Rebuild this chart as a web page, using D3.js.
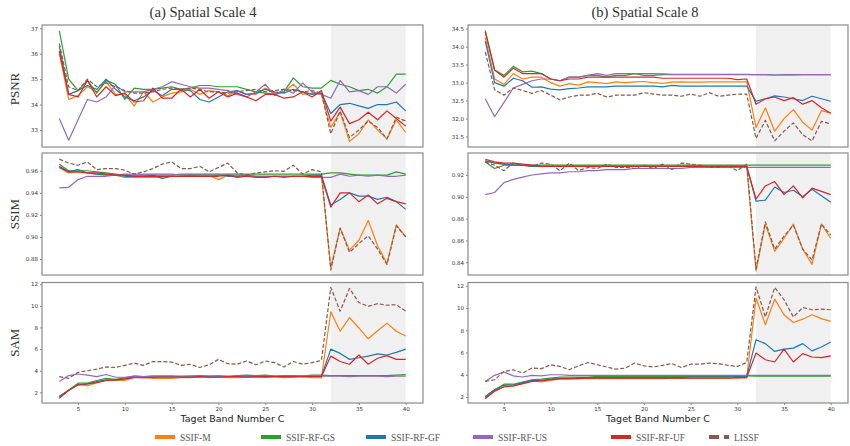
<!DOCTYPE html>
<html><head><meta charset="utf-8">
<script src="https://cdn.jsdelivr.net/npm/d3@7"></script>
<style>body{margin:0;background:#fff}svg{display:block}</style>
</head><body><svg id="c" width="850" height="446"></svg>
<script>
const bands = [3,4,5,6,7,8,9,10,11,12,13,14,15,16,17,18,19,20,21,22,23,24,25,26,27,28,29,30,31,32,33,34,35,36,37,38,39,40];
const seriesNames = ["SSIF-M","SSIF-RF-GS","SSIF-RF-GF","SSIF-RF-US","SSIF-RF-UF","LISSF"];
const seriesColors = ["#ff7f0e","#2ca02c","#1f77b4","#9467bd","#d62728","#8c564b"];
const xTicks = [5,10,15,20,25,30,35,40];
const shadedBand = [32,40];

// (a) Spatial Scale 4 — PSNR
const psnr4_M  = [36.0,34.2,34.35,34.7,34.5,34.9,34.4,34.4,33.95,34.5,34.1,34.3,34.45,34.5,34.6,34.4,34.55,34.5,34.35,34.55,34.4,34.4,34.65,34.45,34.5,34.8,34.4,34.45,34.4,33.1,33.7,32.55,32.85,33.4,33.0,32.65,33.4,32.9];
const psnr4_GS = [36.9,35.0,34.55,34.95,34.45,34.95,34.8,34.2,34.65,34.6,34.6,34.65,34.7,34.6,34.65,34.75,34.75,34.7,34.7,34.7,34.6,34.5,34.45,34.4,34.5,35.05,34.7,34.65,34.65,34.95,34.8,34.7,34.55,34.6,34.45,34.7,35.2,35.2];
const psnr4_GF = [36.3,34.4,34.55,34.75,34.6,35.0,34.6,34.3,34.15,34.3,34.55,34.35,34.6,34.6,34.55,34.2,34.1,34.3,34.5,34.55,34.4,34.45,34.6,34.5,34.45,34.6,34.5,34.4,34.45,33.65,34.0,34.05,33.95,33.85,34.0,34.0,34.1,33.75];
const psnr4_US = [33.45,32.6,33.4,34.2,34.1,34.3,34.75,34.5,34.5,34.5,34.6,34.7,34.9,34.8,34.7,34.65,34.65,34.6,34.55,34.4,34.3,34.5,34.8,34.35,34.6,34.45,34.85,34.5,34.4,34.25,34.95,34.5,34.55,34.4,34.7,34.7,34.45,34.8];
const psnr4_UF = [36.1,34.4,34.3,34.95,34.3,34.7,34.35,34.45,34.1,34.15,34.65,34.25,34.25,34.6,34.3,34.6,34.25,34.5,34.3,34.45,34.3,34.15,34.4,34.4,34.25,34.3,34.5,34.3,34.55,33.35,33.9,33.25,33.4,33.7,33.4,33.75,33.45,33.15];
const psnr4_LI = [36.4,34.7,34.55,35.0,34.7,34.85,34.7,34.55,34.45,34.45,34.5,34.6,34.65,34.6,34.65,34.6,34.5,34.5,34.45,34.5,34.55,34.6,34.5,34.55,34.6,34.55,34.5,34.55,34.45,32.85,33.75,32.7,33.0,33.35,33.1,32.65,33.5,33.35];

// (b) Spatial Scale 8 — PSNR
const psnr8_M  = [34.25,33.1,32.95,33.25,33.1,33.15,33.15,33.0,32.9,32.97,32.93,33.02,33.0,32.97,33.02,33.0,33.02,33.03,33.0,32.98,33.01,33.02,33.01,33.01,33.02,33.02,33.02,33.02,33.02,31.75,32.3,31.65,32.0,32.25,31.9,31.68,32.22,32.15];
const psnr8_GS = [34.45,33.35,33.2,33.45,33.3,33.32,33.25,33.1,33.05,33.15,33.15,33.2,33.2,33.15,33.2,33.2,33.25,33.2,33.2,33.22,33.22,33.22,33.22,33.22,33.22,33.22,33.22,33.22,33.22,33.22,33.22,33.21,33.21,33.21,33.22,33.22,33.22,33.22];
const psnr8_GF = [34.15,33.0,32.9,33.12,33.05,32.87,32.88,32.82,32.8,32.83,32.85,32.88,32.88,32.88,32.9,32.9,32.9,32.9,32.9,32.88,32.92,32.9,32.9,32.9,32.9,32.9,32.9,32.9,32.9,32.48,32.55,32.63,32.6,32.55,32.5,32.62,32.55,32.48];
const psnr8_US = [32.55,32.05,32.45,32.85,32.95,33.05,33.1,33.1,33.05,33.15,33.15,33.2,33.25,33.2,33.25,33.25,33.25,33.25,33.25,33.24,33.23,33.23,33.23,33.23,33.23,33.23,33.23,33.23,33.23,33.22,33.22,33.21,33.22,33.22,33.22,33.22,33.22,33.22];
const psnr8_UF = [34.4,33.35,33.15,33.4,33.25,33.25,33.25,33.1,33.05,33.1,33.1,33.15,33.15,33.15,33.15,33.15,33.15,33.15,33.15,33.12,33.12,33.12,33.12,33.12,33.12,33.12,33.12,33.08,33.1,32.4,32.55,32.6,32.5,32.58,32.4,32.5,32.3,32.15];
const psnr8_LI = [33.85,32.8,32.65,32.85,32.78,32.7,32.78,32.65,32.52,32.6,32.65,32.65,32.7,32.6,32.65,32.65,32.65,32.72,32.68,32.65,32.65,32.62,32.68,32.62,32.72,32.62,32.65,32.68,32.68,31.45,31.95,31.38,31.65,31.88,31.55,31.38,31.92,31.85];

// (a) SSIM
const ssim4_M  = [.963,.958,.959,.958,.957,.957,.956,.954,.954,.954,.954,.954,.955,.955,.956,.956,.956,.952,.956,.955,.955,.955,.954,.955,.955,.955,.955,.955,.956,.872,.908,.888,.897,.915,.892,.876,.911,.900];
const ssim4_GS = [.966,.960,.960,.960,.959,.958,.957,.956,.956,.956,.956,.956,.956,.957,.957,.957,.957,.957,.957,.957,.957,.957,.957,.957,.957,.957,.957,.957,.957,.958,.958,.957,.956,.956,.956,.956,.959,.957];
const ssim4_GF = [.964,.959,.961,.958,.957,.956,.956,.955,.955,.955,.956,.953,.955,.955,.956,.955,.955,.956,.955,.955,.956,.955,.955,.955,.955,.955,.955,.956,.956,.929,.934,.940,.937,.937,.934,.936,.932,.925];
const ssim4_US = [.9445,.945,.952,.955,.955,.955,.956,.957,.957,.957,.957,.957,.957,.956,.956,.956,.956,.956,.956,.956,.955,.955,.955,.955,.955,.955,.955,.954,.954,.954,.957,.955,.956,.955,.956,.955,.955,.956];
const ssim4_UF = [.963,.959,.959,.958,.958,.957,.956,.956,.955,.955,.955,.955,.955,.955,.955,.955,.955,.955,.956,.954,.955,.954,.954,.955,.954,.955,.955,.955,.955,.927,.940,.940,.932,.938,.930,.935,.932,.930];
const ssim4_LI = [.9705,.967,.965,.968,.961,.962,.962,.9605,.957,.959,.962,.966,.968,.962,.962,.964,.959,.963,.967,.958,.956,.958,.959,.960,.9595,.965,.957,.961,.959,.870,.908,.886,.894,.901,.889,.875,.910,.900];

// (b) SSIM
const ssim8_M  = [.933,.931,.930,.929,.929,.928,.928,.928,.928,.928,.928,.928,.928,.928,.928,.928,.928,.928,.928,.928,.928,.928,.928,.928,.928,.928,.928,.928,.928,.832,.875,.850,.862,.875,.852,.838,.875,.862];
const ssim8_GS = [.932,.926,.929,.929,.929,.929,.929,.929,.929,.929,.929,.929,.929,.929,.929,.929,.929,.929,.929,.929,.929,.929,.929,.929,.929,.929,.929,.929,.929,.929,.929,.929,.929,.929,.929,.929,.929,.929];
const ssim8_GF = [.933,.931,.930,.929,.929,.928,.928,.928,.928,.928,.928,.928,.928,.928,.928,.928,.928,.928,.928,.928,.928,.928,.928,.928,.928,.928,.928,.928,.928,.896,.897,.909,.904,.906,.900,.907,.901,.895];
const ssim8_US = [.902,.904,.913,.916,.918,.920,.921,.922,.922,.923,.923,.924,.924,.925,.925,.925,.926,.926,.926,.926,.926,.926,.927,.927,.927,.927,.927,.927,.927,.927,.927,.927,.927,.927,.927,.927,.927,.927];
const ssim8_UF = [.9345,.932,.931,.931,.930,.929,.928,.928,.928,.928,.928,.928,.928,.928,.928,.928,.928,.928,.928,.928,.928,.928,.928,.928,.928,.928,.928,.928,.928,.898,.910,.914,.902,.910,.899,.908,.905,.902];
const ssim8_LI = [.932,.929,.924,.931,.929,.928,.931,.930,.924,.931,.924,.927,.926,.930,.927,.927,.926,.929,.926,.930,.925,.931,.930,.929,.927,.927,.928,.924,.930,.834,.877,.852,.864,.874,.852,.842,.875,.865];

// (a) SAM
const sam4_M  = [1.55,2.2,2.75,2.6,2.9,3.1,3.1,3.1,3.4,3.35,3.3,3.3,3.3,3.35,3.35,3.45,3.35,3.4,3.35,3.35,3.4,3.4,3.45,3.45,3.35,3.4,3.45,3.35,3.35,9.45,7.65,8.9,7.95,6.95,7.7,8.4,7.65,7.2];
const sam4_GS = [1.65,2.2,2.85,2.85,3.1,3.3,3.2,3.35,3.5,3.45,3.5,3.5,3.5,3.45,3.5,3.55,3.5,3.5,3.45,3.55,3.6,3.55,3.6,3.5,3.55,3.55,3.5,3.6,3.6,3.55,3.55,3.55,3.55,3.55,3.55,3.55,3.6,3.65];
const sam4_GF = [1.6,2.2,2.7,2.75,3.0,3.15,3.15,3.25,3.45,3.45,3.4,3.45,3.45,3.45,3.4,3.45,3.45,3.5,3.45,3.45,3.45,3.45,3.4,3.45,3.45,3.45,3.5,3.5,3.5,6.0,5.6,5.05,5.2,5.35,5.55,5.45,5.7,6.0];
const sam4_US = [3.0,3.55,3.7,3.6,3.45,3.65,3.4,3.4,3.5,3.45,3.5,3.5,3.5,3.5,3.5,3.5,3.5,3.5,3.5,3.5,3.5,3.5,3.5,3.5,3.5,3.5,3.5,3.5,3.5,3.5,3.5,3.45,3.5,3.5,3.5,3.45,3.5,3.5];
const sam4_UF = [1.45,2.2,2.7,2.8,2.9,3.1,3.15,3.25,3.35,3.35,3.4,3.4,3.4,3.4,3.4,3.45,3.4,3.4,3.45,3.45,3.4,3.45,3.45,3.45,3.45,3.45,3.45,3.45,3.45,5.35,4.85,4.6,5.45,4.6,5.15,5.4,5.05,5.05];
const sam4_LI = [3.45,3.3,3.85,4.0,4.15,4.35,4.3,4.5,4.7,4.5,4.85,4.85,4.8,4.5,4.6,4.3,4.55,5.05,4.65,4.6,4.9,4.55,4.9,4.75,4.35,4.85,4.6,4.75,4.95,11.7,9.5,11.6,10.3,9.95,10.2,10.05,10.1,9.5];

// (b) SAM
const sam8_M  = [1.9,2.5,2.95,3.0,3.2,3.45,3.35,3.5,3.6,3.6,3.65,3.65,3.65,3.65,3.65,3.65,3.65,3.65,3.65,3.65,3.7,3.7,3.7,3.7,3.7,3.7,3.7,3.7,3.75,10.9,8.5,10.8,9.4,8.7,9.0,9.4,9.05,8.8];
const sam8_GS = [2.05,2.65,3.15,3.15,3.35,3.55,3.6,3.7,3.8,3.8,3.8,3.8,3.85,3.85,3.85,3.85,3.85,3.85,3.85,3.85,3.85,3.85,3.85,3.85,3.85,3.85,3.85,3.9,3.9,3.88,3.88,3.88,3.88,3.88,3.88,3.88,3.88,3.88];
const sam8_GF = [2.0,2.65,3.05,3.1,3.3,3.5,3.5,3.6,3.7,3.7,3.75,3.75,3.75,3.75,3.75,3.75,3.75,3.75,3.75,3.75,3.75,3.75,3.8,3.8,3.8,3.8,3.8,3.85,3.85,7.15,6.8,6.1,6.3,6.4,6.8,6.15,6.5,6.95];
const sam8_US = [3.4,3.95,4.25,3.9,3.8,3.95,3.9,4.0,4.0,3.95,3.95,3.95,3.95,3.95,3.95,3.95,3.95,3.95,3.95,3.95,3.95,3.95,3.95,3.95,3.95,3.95,3.95,3.95,3.95,3.95,3.95,3.95,3.95,3.95,3.95,3.95,3.95,3.95];
const sam8_UF = [1.85,2.55,2.9,3.0,3.2,3.4,3.45,3.55,3.65,3.65,3.65,3.7,3.7,3.7,3.7,3.7,3.7,3.7,3.7,3.7,3.7,3.7,3.7,3.7,3.7,3.7,3.7,3.75,3.75,5.95,5.35,5.15,6.3,5.15,5.9,5.6,5.55,5.7];
const sam8_LI = [3.4,3.55,4.3,4.45,4.15,4.6,4.55,4.9,4.75,4.45,4.8,5.1,4.9,4.7,4.5,4.6,5.05,4.8,4.7,4.85,5.0,4.65,4.95,4.95,5.05,5.0,4.85,4.75,5.1,11.9,9.2,11.85,10.75,9.2,10.05,9.85,9.9,9.85];

const psnr4Ticks = [33,34,35,36,37];
const psnr8Ticks = [31.5,32.0,32.5,33.0,33.5,34.0,34.5];
const ssim4Ticks = [0.88,0.90,0.92,0.94,0.96];
const ssim8Ticks = [0.84,0.86,0.88,0.90,0.92];
const samTicks = [2,4,6,8,10,12];

const colTitles = ["(a) Spatial Scale 4","(b) Spatial Scale 8"];
const rowLabels = ["PSNR","SSIM","SAM"];
const xLabel = "Taget Band Number C";

// ---- layout
const svg = d3.select("#c");
const cols = [{x0:42,x1:423,tx:203},{x0:468,x1:848,tx:645}];
const rows = [{y0:25,y1:147},{y0:153,y1:275},{y0:282.5,y1:403}];
const panels = [
  {c:0,r:0,dom:[32.33,37.13],ticks:psnr4Ticks,fmt:d3.format("d"),data:[psnr4_M,psnr4_GS,psnr4_GF,psnr4_US,psnr4_UF,psnr4_LI]},
  {c:1,r:0,dom:[31.21,34.60],ticks:psnr8Ticks,fmt:d3.format(".1f"),data:[psnr8_M,psnr8_GS,psnr8_GF,psnr8_US,psnr8_UF,psnr8_LI]},
  {c:0,r:1,dom:[0.8655,0.9761],ticks:ssim4Ticks,fmt:d3.format(".2f"),data:[ssim4_M,ssim4_GS,ssim4_GF,ssim4_US,ssim4_UF,ssim4_LI]},
  {c:1,r:1,dom:[0.8283,0.9402],ticks:ssim8Ticks,fmt:d3.format(".2f"),data:[ssim8_M,ssim8_GS,ssim8_GF,ssim8_US,ssim8_UF,ssim8_LI]},
  {c:0,r:2,dom:[1.02,12.15],ticks:samTicks,fmt:d3.format("d"),data:[sam4_M,sam4_GS,sam4_GF,sam4_US,sam4_UF,sam4_LI]},
  {c:1,r:2,dom:[1.46,12.3],ticks:samTicks,fmt:d3.format("d"),data:[sam8_M,sam8_GS,sam8_GF,sam8_US,sam8_UF,sam8_LI]}
];

panels.forEach((p,pi)=>{
  const C = cols[p.c], R = rows[p.r];
  const x = d3.scaleLinear().domain([1.15,41.85]).range([C.x0,C.x1]);
  const y = d3.scaleLinear().domain(p.dom).range([R.y1,R.y0]);
  const g = svg.append("g");
  g.append("rect").attr("x",x(shadedBand[0])).attr("y",R.y0).attr("width",x(shadedBand[1])-x(shadedBand[0])).attr("height",R.y1-R.y0).attr("fill","#f0f0f0");
  const clipId = "clip"+pi;
  svg.append("clipPath").attr("id",clipId).append("rect").attr("x",C.x0).attr("y",R.y0).attr("width",C.x1-C.x0).attr("height",R.y1-R.y0);
  const line = d3.line().x((d,i)=>x(bands[i])).y(d=>y(d));
  const lg = g.append("g").attr("clip-path",`url(#${clipId})`);
  p.data.forEach((arr,si)=>{
    lg.append("path").attr("d",line(arr)).attr("fill","none")
      .attr("stroke",seriesColors[si]).attr("stroke-width",1.2)
      .attr("stroke-linejoin","round")
      .attr("stroke-dasharray", si===5 ? "4,2" : null);
  });
  // y axis
  const ya = g.append("g").attr("transform",`translate(${C.x0},0)`)
    .call(d3.axisLeft(y).tickValues(p.ticks).tickFormat(p.fmt).tickSize(2).tickPadding(2));
  ya.select(".domain").remove();
  ya.selectAll("line").attr("stroke","#555").attr("stroke-width",0.7);
  ya.selectAll("text").attr("font-family","DejaVu Sans").attr("font-size",5.5).attr("fill","#333");
  if (p.r===2){
    const xa = g.append("g").attr("transform",`translate(0,${R.y1})`)
      .call(d3.axisBottom(x).tickValues(xTicks).tickFormat(d3.format("d")).tickSize(2).tickPadding(2));
    xa.select(".domain").remove();
    xa.selectAll("line").attr("stroke","#555").attr("stroke-width",0.7);
    xa.selectAll("text").attr("font-family","DejaVu Sans").attr("font-size",5.5).attr("fill","#333");
    g.append("text").attr("x",(C.x0+C.x1)/2).attr("y",422).attr("text-anchor","middle")
      .attr("font-family","DejaVu Sans").attr("font-size",9.5).attr("fill","#222").text(xLabel);
  }
  g.append("rect").attr("x",C.x0).attr("y",R.y0).attr("width",C.x1-C.x0).attr("height",R.y1-R.y0)
    .attr("fill","none").attr("stroke","#8a8a8a").attr("stroke-width",1.2);
  if (p.c===0){
    const cy=(R.y0+R.y1)/2 + (p.r===0?3:0);
    svg.append("text").attr("transform",`translate(19,${cy}) rotate(-90)`).attr("text-anchor","middle")
      .attr("font-family","Liberation Serif").attr("font-size",13).attr("fill","#333").text(rowLabels[p.r]);
  }
  if (p.r===0){
    svg.append("text").attr("x",C.tx).attr("y",17).attr("text-anchor","middle")
      .attr("font-family","Liberation Serif").attr("font-size",15).attr("fill","#333")
      .attr("textLength",107).attr("lengthAdjust","spacingAndGlyphs").text(colTitles[p.c]);
  }
});

// legend
const legX = [155,261,366,473,611,709];
const lg = svg.append("g");
seriesNames.forEach((n,i)=>{
  lg.append("line").attr("x1",legX[i]).attr("x2",legX[i]+20).attr("y1",437).attr("y2",437)
    .attr("stroke",seriesColors[i]).attr("stroke-width",4)
    .attr("stroke-dasharray", i===5 ? "10,5" : null);
  lg.append("text").attr("x",legX[i]+25).attr("y",440.5).attr("font-family","Liberation Serif")
    .attr("font-size",9.5).attr("fill","#555").text(n);
});
</script></body></html>
